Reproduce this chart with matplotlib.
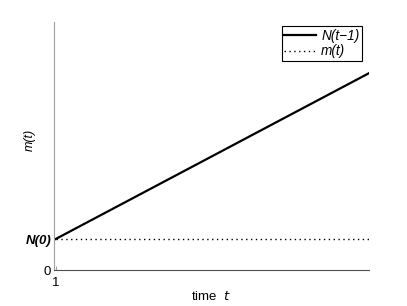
import matplotlib
matplotlib.use("Agg")
import matplotlib.pyplot as plt

t_vals = [1, 20]
n_prev = [1.0, 6.35]
m_vals = [1.0, 1.0]
x_ticks = [1]
x_tick_labels = ["1"]
y_ticks = [0, 1]
y_tick_labels = ["0", "N(0)"]

plt.rcParams['font.family'] = ['Liberation Sans', 'DejaVu Sans']
fig = plt.figure(figsize=(4.07, 3.06), dpi=100)
ax = fig.add_axes([0.1327, 0.1176, 0.7739, 0.8104])
ax.plot(t_vals, n_prev, color='black', lw=1.6, label='N(t\u22121)')
ax.plot(t_vals, m_vals, color='black', lw=1.0, ls=(0, (1, 2.5)), label='m(t)')
ax.set_xlim(0.9, 20)
ax.set_ylim(0, 8)
ax.spines['top'].set_visible(False)
ax.spines['right'].set_visible(False)
ax.spines['left'].set_color('#a0a0a0')
ax.spines['bottom'].set_color('#505050')
ax.set_xticks(x_ticks)
ax.set_xticklabels(x_tick_labels, fontsize=9.5)
ax.set_yticks(y_ticks)
labs = ax.set_yticklabels(y_tick_labels, fontsize=9.5)
labs[1].set_fontweight('bold')
labs[1].set_fontstyle('italic')
ax.tick_params(axis='x', direction='in', length=3, color='#a0a0a0', pad=5)
ax.tick_params(axis='y', length=0, pad=2)
ax.set_xlabel('time  $\\it{t}$', fontsize=9.5, labelpad=1)
ax.set_ylabel('m(t)', fontsize=9, fontstyle='italic')
ax.yaxis.set_label_coords(-0.058, 0.524)
leg = ax.legend(loc='upper right', fontsize=9.8, frameon=True, fancybox=False,
                edgecolor='black', framealpha=1, borderpad=0.2, handlelength=2.3,
                handletextpad=0.4, labelspacing=0.1, borderaxespad=0,
                bbox_to_anchor=(0.978, 0.983))
for tx in leg.get_texts():
    tx.set_fontstyle('italic')
leg.get_frame().set_linewidth(0.8)
fig.savefig('out.png', dpi=100)
